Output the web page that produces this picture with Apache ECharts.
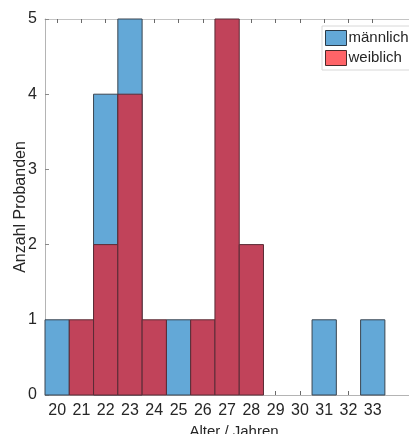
<!DOCTYPE html>
<html>
<head>
<meta charset="utf-8">
<script src="https://cdn.jsdelivr.net/npm/echarts@6/dist/echarts.min.js"></script>
<style>
  html, body { margin: 0; padding: 0; background: #fff; }
  #chart { width: 409px; height: 434px; }
</style>
</head>
<body>
<div id="chart"></div>
<script>
// Alter (Jahre) und Anzahl je Geschlecht
const ages = [20, 21, 22, 23, 24, 25, 26, 27, 28, 29, 30, 31, 32, 33];
const maennlich = [1, 0, 4, 5, 0, 1, 0, 0, 0, 0, 0, 1, 0, 1];
const weiblich  = [0, 1, 2, 4, 1, 0, 1, 5, 2, 0, 0, 0, 0, 0];
const yTicks = [0, 1, 2, 3, 4, 5];

const blue = '#63a8d7';
const red = '#c1435a';

function toPairs(vals) {
  return ages.map((a, i) => [a, vals[i]]).filter(d => d[1] > 0);
}

// Balken von x-0.5 bis x+0.5 über die Achsen-Skala
function histBar(fill, edge) {
  return function (params, api) {
    const x = api.value(0), y = api.value(1);
    const p0 = api.coord([x - 0.5, y]);
    const p1 = api.coord([x + 0.5, 0]);
    return {
      type: 'rect',
      shape: { x: p0[0], y: p0[1], width: p1[0] - p0[0], height: p1[1] - p0[1] },
      style: { fill: fill, stroke: edge, lineWidth: 1 }
    };
  };
}

const font = 'Liberation Sans, Arial, sans-serif';
const chart = echarts.init(document.getElementById('chart'));
chart.setOption({
  animation: false,
  grid: { left: 45, right: -14, top: 19, bottom: 39, containLabel: false, outerBoundsMode: 'none' },
  legend: {
    data: [
      { name: 'männlich', itemStyle: { color: blue, borderColor: '#2a3a48', borderWidth: 1 } },
      { name: 'weiblich', itemStyle: { color: '#ff6468', borderColor: '#4a2a2a', borderWidth: 1 } }
    ],
    orient: 'vertical',
    left: 322, top: 26,
    icon: 'rect',
    itemWidth: 21, itemHeight: 15, itemGap: 4,
    padding: [4, 10, 4, 3],
    borderColor: '#d8d8d8', borderWidth: 1, backgroundColor: '#fff',
    textStyle: { fontFamily: font, fontSize: 15, color: '#262626', padding: [0, 0, 0, -3] }
  },
  xAxis: [{
    type: 'value', min: 19.5, max: 35.07,
    name: 'Alter / Jahren', nameLocation: 'middle', nameGap: 29, nameMoveOverlap: false,
    nameTextStyle: { fontFamily: font, fontSize: 15, color: '#262626' },
    axisLine: { show: true, lineStyle: { color: '#b4b4b4' } },
    axisTick: { show: true, inside: true, length: 4, customValues: ages, lineStyle: { color: '#6a6a6a' } },
    axisLabel: { customValues: ages, fontFamily: font, fontSize: 16, color: '#262626', margin: 8 },
    splitLine: { show: false }
  }, {
    type: 'value', min: 19.5, max: 35.07, position: 'top',
    axisLine: { show: true, lineStyle: { color: '#c4c4c4' } },
    axisTick: { show: true, inside: true, length: 4, customValues: ages, lineStyle: { color: '#6a6a6a' } },
    axisLabel: { show: false },
    splitLine: { show: false }
  }],
  yAxis: {
    type: 'value', min: 0, max: 5, interval: 1,
    name: 'Anzahl Probanden', nameLocation: 'middle', nameGap: 16, nameMoveOverlap: false,
    nameTextStyle: { fontFamily: font, fontSize: 16, color: '#262626' },
    axisLine: { show: true, lineStyle: { color: '#b4b4b4' } },
    axisTick: { show: true, inside: true, length: 4, lineStyle: { color: '#8a8a8a' } },
    axisLabel: { fontFamily: font, fontSize: 16, color: '#262626', margin: 8 },
    splitLine: { show: false }
  },
  series: [
    {
      name: 'männlich', type: 'custom', data: toPairs(maennlich),
      renderItem: histBar(blue, '#3a4550'),
      itemStyle: { color: blue }
    },
    {
      name: 'weiblich', type: 'custom', data: toPairs(weiblich),
      renderItem: histBar(red, '#5a2c36'),
      itemStyle: { color: '#ff6468' }
    }
  ]
});
</script>
</body>
</html>
